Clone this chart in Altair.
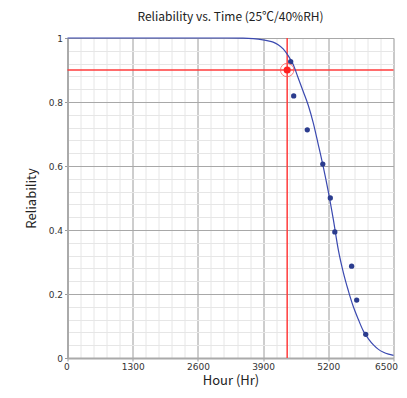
import altair as alt
import pandas as pd

# observed data points (hour, reliability)
obs_hours = [4450, 4510, 4781, 5090, 5240, 5330, 5665, 5766, 5946]
obs_rel = [0.926, 0.819, 0.713, 0.606, 0.500, 0.394, 0.287, 0.181, 0.074]

# fitted reliability curve
curve_hours = [0, 1000, 2000, 3000, 3500, 3700, 3900, 4000, 4100, 4200, 4300,
               4400, 4500, 4600, 4700, 4800, 4900, 5000, 5100, 5200, 5300,
               5400, 5500, 5600, 5700, 5800, 5900, 6000, 6100, 6200, 6300,
               6400, 6500]
curve_rel = [1.0, 1.0, 1.0, 1.0, 0.9995, 0.998, 0.994, 0.991, 0.987, 0.979, 0.966,
             0.945, 0.917, 0.875, 0.833, 0.79, 0.735, 0.667, 0.597, 0.52, 0.433,
             0.338, 0.267, 0.21, 0.16, 0.12, 0.084, 0.06, 0.041, 0.027, 0.018,
             0.012, 0.008]

# B10 marker
b10_hour = [4380]
b10_rel = [0.9]

x_major = [0, 1300, 2600, 3900, 5200, 6500]
y_major = [0, 0.2, 0.4, 0.6, 0.8, 1]
x_minor = [i * 260 for i in range(26)]
y_minor = [round(i * 0.04, 2) for i in range(26)]

obs = pd.DataFrame({"hour": obs_hours, "rel": obs_rel})
curve = pd.DataFrame({"hour": curve_hours, "rel": curve_rel})
b10 = pd.DataFrame({"hour": b10_hour, "rel": b10_rel})

xs = alt.Scale(domain=[0, 6500], nice=False, zero=False)
ys = alt.Scale(domain=[0, 1], nice=False, zero=False)

label_font = "DejaVu Sans"

minor = alt.Chart(curve).mark_point(opacity=0).encode(
    x=alt.X("hour:Q", scale=xs, axis=alt.Axis(values=x_minor, grid=True, gridColor="#e6e6e6",
                                              gridWidth=1, labels=False, ticks=False, domain=False,
                                              title=None, orient="top")),
    y=alt.Y("rel:Q", scale=ys, axis=alt.Axis(values=y_minor, grid=True, gridColor="#e6e6e6",
                                             gridWidth=1, labels=False, ticks=False, domain=False,
                                             title=None, orient="right")),
)

major = alt.Chart(curve).mark_point(opacity=0).encode(
    x=alt.X("hour:Q", scale=xs, axis=alt.Axis(values=x_major, grid=True, gridColor="#a8a8a8",
                                              gridWidth=1, format="d", labelFontSize=9,
                                              labelColor="#333", labelFont=label_font,
                                              labelFlush=True, labelFlushOffset=4,
                                              tickColor="#999", tickSize=3, domainColor="#aaaaaa",
                                              domainWidth=2, title="Hour (Hr)", titleFontSize=13,
                                              titleFontWeight="normal", titleFont="Noto Sans CJK JP",
                                              titleColor="#222", titlePadding=3, labelPadding=1,
                                              orient="bottom")),
    y=alt.Y("rel:Q", scale=ys, axis=alt.Axis(values=y_major, grid=True, gridColor="#a8a8a8",
                                             gridWidth=1, format="~g", labelFontSize=9,
                                             labelColor="#333", labelFont=label_font,
                                             labelFlush=False,
                                             tickColor="#999", tickSize=3, domainColor="#aaaaaa",
                                             domainWidth=2, title="Reliability", titleFontSize=13,
                                             titleFontWeight="normal", titleFont="Noto Sans CJK JP",
                                             titleColor="#222", titlePadding=10, labelPadding=2,
                                             orient="left")),
)

X = alt.X("hour:Q", scale=xs, axis=None)
Y = alt.Y("rel:Q", scale=ys, axis=None)

hline = alt.Chart(b10).mark_rule(color="#ff3b3b", strokeWidth=1.5).encode(y=Y)
vline = alt.Chart(b10).mark_rule(color="#ff3b3b", strokeWidth=1.5).encode(x=X)

line = alt.Chart(curve).mark_line(color="#3a49b0", strokeWidth=1.2, interpolate="monotone").encode(
    x=X, y=Y)

pts = alt.Chart(obs).mark_circle(color="#2b3c8e", size=28, opacity=1).encode(x=X, y=Y)

ring = alt.Chart(b10).mark_point(shape="circle", color="#ff5a5a", size=180, strokeWidth=1,
                                 opacity=0.8, filled=False).encode(x=X, y=Y)
dot = alt.Chart(b10).mark_circle(color="#ff2020", size=50, opacity=1).encode(x=X, y=Y)

chart = alt.layer(minor, major, hline, vline, line, pts, ring, dot).resolve_axis(
    x="independent", y="independent"
).properties(
    width=326, height=320,
    title=alt.TitleParams("Reliability vs. Time (25℃/40%RH)", fontSize=12,
                          font="Noto Sans CJK JP", fontWeight="normal", color="#222",
                          anchor="middle", offset=10),
    autosize=alt.AutoSizeParams(type="none"),
    padding={"left": 59.5, "top": 30, "right": 5, "bottom": 36},
).configure_view(stroke="#aaaaaa", strokeWidth=1.5).configure(background="white")

chart.save("out.html", embed_options={"renderer": "svg", "actions": False})
